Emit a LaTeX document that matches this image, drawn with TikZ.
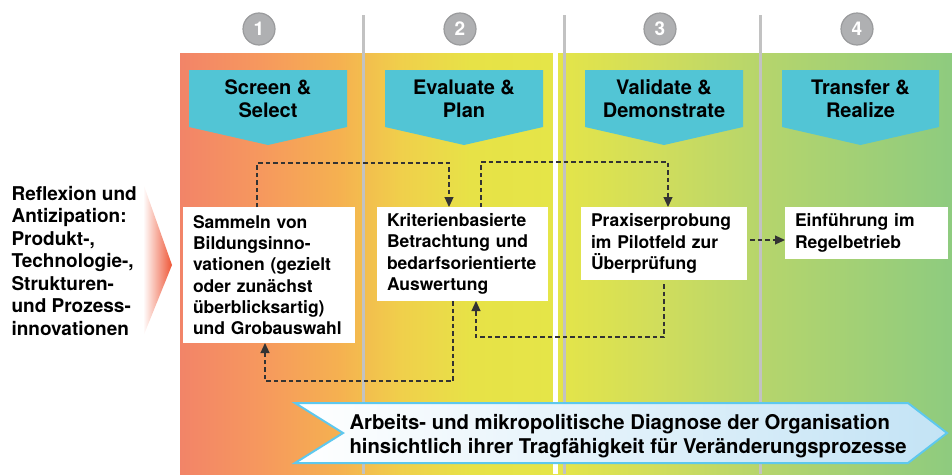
\documentclass[tikz,border=0pt]{standalone}
\usepackage{fontspec}
\setmainfont{TeX Gyre Heros}
\usetikzlibrary{arrows.meta}

\definecolor{bannercyan}{HTML}{52C5D5}
\definecolor{circlegray}{HTML}{AFB0B2}
\definecolor{circleedge}{HTML}{9A9B9D}
\definecolor{phaseline}{HTML}{C2C2C2}
\definecolor{arrowblue}{HTML}{5EC8EE}
\definecolor{arrowfill}{HTML}{C3E3F5}
\definecolor{tipred}{HTML}{EE5535}
\definecolor{pA}{HTML}{F28468}
\definecolor{pB}{HTML}{F6985E}
\definecolor{pC}{HTML}{F5B150}
\definecolor{pD}{HTML}{F0CF4B}
\definecolor{pE}{HTML}{E7E247}
\definecolor{pF}{HTML}{E5E548}
\definecolor{pG}{HTML}{D0DD5C}
\definecolor{pH}{HTML}{B6D56C}
\definecolor{pI}{HTML}{8ECB7F}

% phase background, left to right
\pgfdeclarehorizontalshading{phases}{100bp}{color(0bp)=(pA); color(25bp)=(pA);
  color(30.18bp)=(pB); color(35.36bp)=(pC); color(39.25bp)=(pD);
  color(43.78bp)=(pE); color(49.29bp)=(pF); color(56.09bp)=(pG);
  color(62.56bp)=(pH); color(75bp)=(pI); color(100bp)=(pI)}

\tikzset{
  numcirc/.style={circle, fill=circlegray, draw=circleedge, line width=1.2pt,
    minimum size=32pt, inner sep=0pt, text=white,
    font=\bfseries\fontsize{19}{19}\selectfont},
  bantext/.style={align=center, font=\bfseries\fontsize{20}{23}\selectfont},
  stepbox/.style={fill=white, align=left, anchor=north west, inner xsep=10pt,
    inner ysep=0pt, outer sep=0pt, font=\bfseries\fontsize{17.5}{21.3}\selectfont},
  dconn/.style={dash pattern=on 4.5pt off 3pt, line width=1.1pt, draw=black!80},
}

\begin{document}
\begin{tikzpicture}[x=1pt, y=-1pt, >={Triangle[length=10pt,width=9pt]}]
  \useasboundingbox (0,0) rectangle (952,474);

  % Background of the phases
  \fill[shading=phases] (180,53) rectangle (952,474);
  \fill[white] (553,53) rectangle (558,474);
  \foreach \x in {363,564,760}
    \draw[phaseline, line width=3pt] (\x,15) -- (\x,474);

  % Phase numbers
  \node[numcirc] (n1) at (259,29) {1};
  \node[numcirc] (n2) at (460,29) {2};
  \node[numcirc] (n3) at (660,29) {3};
  \node[numcirc] (n4) at (857,29) {4};

  % Banners
  \foreach \xa/\xb/\lbl [count=\i] in {189/347/{Screen \&\\Select},
      385/543/{Evaluate \&\\Plan}, 585/743/{Validate \&\\Demonstrate},
      782/939/{Transfer \&\\Realize}} {
    \fill[bannercyan] (\xa,70) -- (\xb,70) -- (\xb,127) -- ({(\xa+\xb)/2},145)
      -- (\xa,127) -- cycle;
    \node[bantext] (ban\i) at ({(\xa+\xb)/2},99) {\lbl};
  }

  % Input from the left
  \shade[left color=white, right color=tipred] (143,183) -- (172,265) -- (143,337) -- cycle;
  \node[anchor=west, align=left, font=\bfseries\fontsize{19}{22.5}\selectfont]
    (refl) at (8,261) {Reflexion und\\Antizipation:\\Produkt-,\\Technologie-,\\Strukturen-\\und Prozess-\\innovationen};

  % Steps
  \node[stepbox, text width=152pt, minimum height=136pt] (box1) at (183,207)
    {Sammeln von\\Bildungsinno-\\vationen (gezielt\\oder zunächst\\überblicksartig)\\und Grobauswahl};
  \node[stepbox, text width=151pt, minimum height=94pt] (box2) at (377,207)
    {Kriterienbasierte\\Betrachtung und\\bedarfsorientierte\\Auswertung};
  \node[stepbox, text width=146pt, minimum height=73pt] (box3) at (581,207)
    {Praxiserprobung\\im Pilotfeld zur\\Überprüfung};
  \node[stepbox, text width=143pt, minimum height=52pt] (box4) at (785,207)
    {Einführung im\\Regelbetrieb};

  % Dashed connectors
  \coordinate (k1) at (257,163);
  \coordinate (k2) at (449,163);
  \coordinate (k3) at (481,162);
  \coordinate (k4) at (668,162);
  \coordinate (k5) at (453,381);
  \coordinate (k6) at (265,381);
  \coordinate (k7) at (664,337);
  \coordinate (k8) at (476,337);
  \coordinate (k9) at (766,240);
  \draw[dconn, ->] (box1.north -| k1) |- (k2) -- (box2.north -| k2);
  \draw[dconn, ->] (box2.north -| k3) |- (k4) -- (box3.north -| k4);
  \draw[dconn, ->] (box2.south -| k5) |- (k6) -- (box1.south -| k6);
  \draw[dconn, ->, shorten <=4pt] (box3.south -| k7) |- (k8) -- (box2.south -| k8);
  \draw[dconn, ->, shorten <=3pt] (box3.east |- k9) -- (box4.west |- k9);

  % Diagnosis arrow
  \shade[left color=white, right color=arrowfill, draw=arrowblue, line width=2pt]
    (295,403) -- (908,403) -- (947,433) -- (908,463) -- (295,463) -- (343,433) -- cycle;
  \node[anchor=west, align=left, font=\bfseries\fontsize{20.3}{24}\selectfont]
    (diag) at (346,436) {Arbeits- und mikropolitische Diagnose der Organisation\\hinsichtlich ihrer Tragfähigkeit für Veränderungsprozesse};
\end{tikzpicture}
\end{document}
